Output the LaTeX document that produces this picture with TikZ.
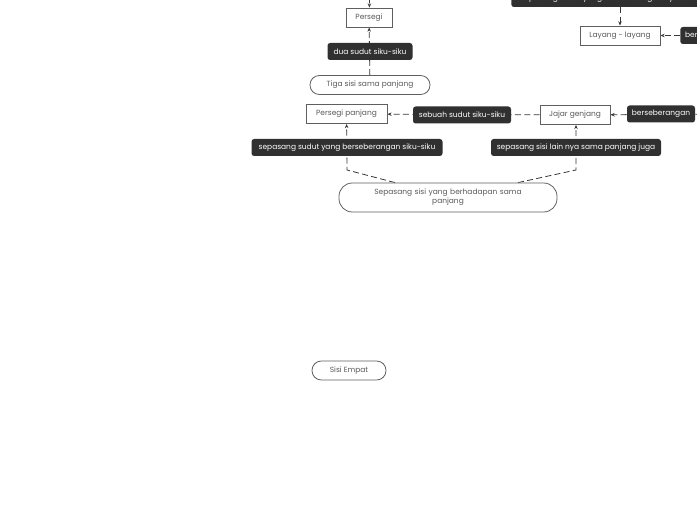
\documentclass[tikz,border=0pt]{standalone}
\usepackage{fontspec}
\setmainfont{Poppins}
\definecolor{labelDark}{RGB}{48,48,48}
\definecolor{boxEdge}{RGB}{95,95,95}
\definecolor{boxText}{RGB}{90,90,90}
\definecolor{linkGrey}{RGB}{55,55,55}
\usepackage{tikz}
\usetikzlibrary{arrows.meta,positioning,backgrounds}

\begin{document}
\begin{tikzpicture}[x=0.75pt,y=-0.75pt,
    shape box/.style={draw=boxEdge, fill=white, text=boxText, line width=0.6pt,
      font=\fontsize{5.6}{6.6}\selectfont, minimum height=14.25pt, inner sep=1pt},
    shape pill/.style={shape box, rounded corners=7pt},
    link label/.style={fill=labelDark, text=white, rounded corners=2pt,
      font=\fontsize{5.6}{6.6}\selectfont, minimum height=12.75pt, inner sep=1pt},
    link/.style={draw=linkGrey, line width=0.6pt, dash pattern=on 4.5pt off 2.5pt},
    to box/.style={link, -{Stealth[length=3.2pt,width=2.6pt]}}]
  \useasboundingbox (0,0) rectangle (697,520);
  \clip (0,0) rectangle (697,520);

  % square branch
  \coordinate (above) at (370,-12);
  \node[shape box, minimum width=34.5pt] (persegi) at (369,17.5) {Persegi};
  \node[link label, minimum width=63.75pt] (duaSudut) at (370,51.5) {dua sudut siku-siku};
  \node[shape pill, minimum width=90pt] (tigaSisi) at (370,85) {Tiga sisi sama panjang};

  % rectangle / parallelogram row
  \node[shape box, minimum width=60.75pt] (perPanjang) at (346.5,114) {Persegi panjang};
  \node[link label, minimum width=73.5pt] (sebuahSudut) at (462,115) {sebuah sudut siku-siku};
  \node[shape box, minimum width=52.5pt] (jajar) at (575,115) {Jajar genjang};
  \node[link label, minimum width=51pt] (seberang) at (661,114) {berseberangan};
  \coordinate (offRight) at (720,114);

  \node[link label, minimum width=143.25pt] (sudutSiku) at (347,147.5) {sepasang sudut yang berseberangan siku-siku};
  \node[link label, minimum width=127.5pt] (sisiLain) at (576,147.5) {sepasang sisi lain nya sama panjang juga};
  \node[shape pill, rounded corners=10pt, minimum width=163.5pt, minimum height=21.75pt,
    text width=120pt, align=center] (sisiHadap) at (448,197.5)
    {Sepasang sisi yang berhadapan sama\\panjang};
  \coordinate (bendL) at (347,170);
  \coordinate (bendR) at (576,170);

  % kite branch
  \node[link label, anchor=west, minimum width=150pt] (sudutLayang) at (511,-1.5)
    {sepasang sudut yang berseberangan nya sama};
  \node[shape box, minimum width=60pt] (layang) at (620,35.5) {Layang - layang};
  \node[link label, anchor=west, minimum width=51pt] (seberangTwo) at (680,35.5) {berseberangan};

  \node[shape pill, minimum width=55.5pt] (sisiEmpat) at (349,370.5) {Sisi Empat};

  \begin{scope}[on background layer]
    \draw[to box] (above) -- (persegi);
    \draw[to box] (tigaSisi) -- (persegi);
    \draw[to box] (jajar) -- (perPanjang);
    \draw[to box] (offRight) -- (jajar);
    \draw[to box] ([xshift=-39.75pt]sisiHadap.north) -- (bendL) -- (perPanjang);
    \draw[to box] ([xshift=52.5pt]sisiHadap.north) -- (bendR) -- (jajar.south -| bendR);
    \draw[to box] (sudutLayang.south -| layang.north) -- (layang);
    \draw[to box] (seberangTwo) -- (layang);
  \end{scope}
\end{tikzpicture}
\end{document}
